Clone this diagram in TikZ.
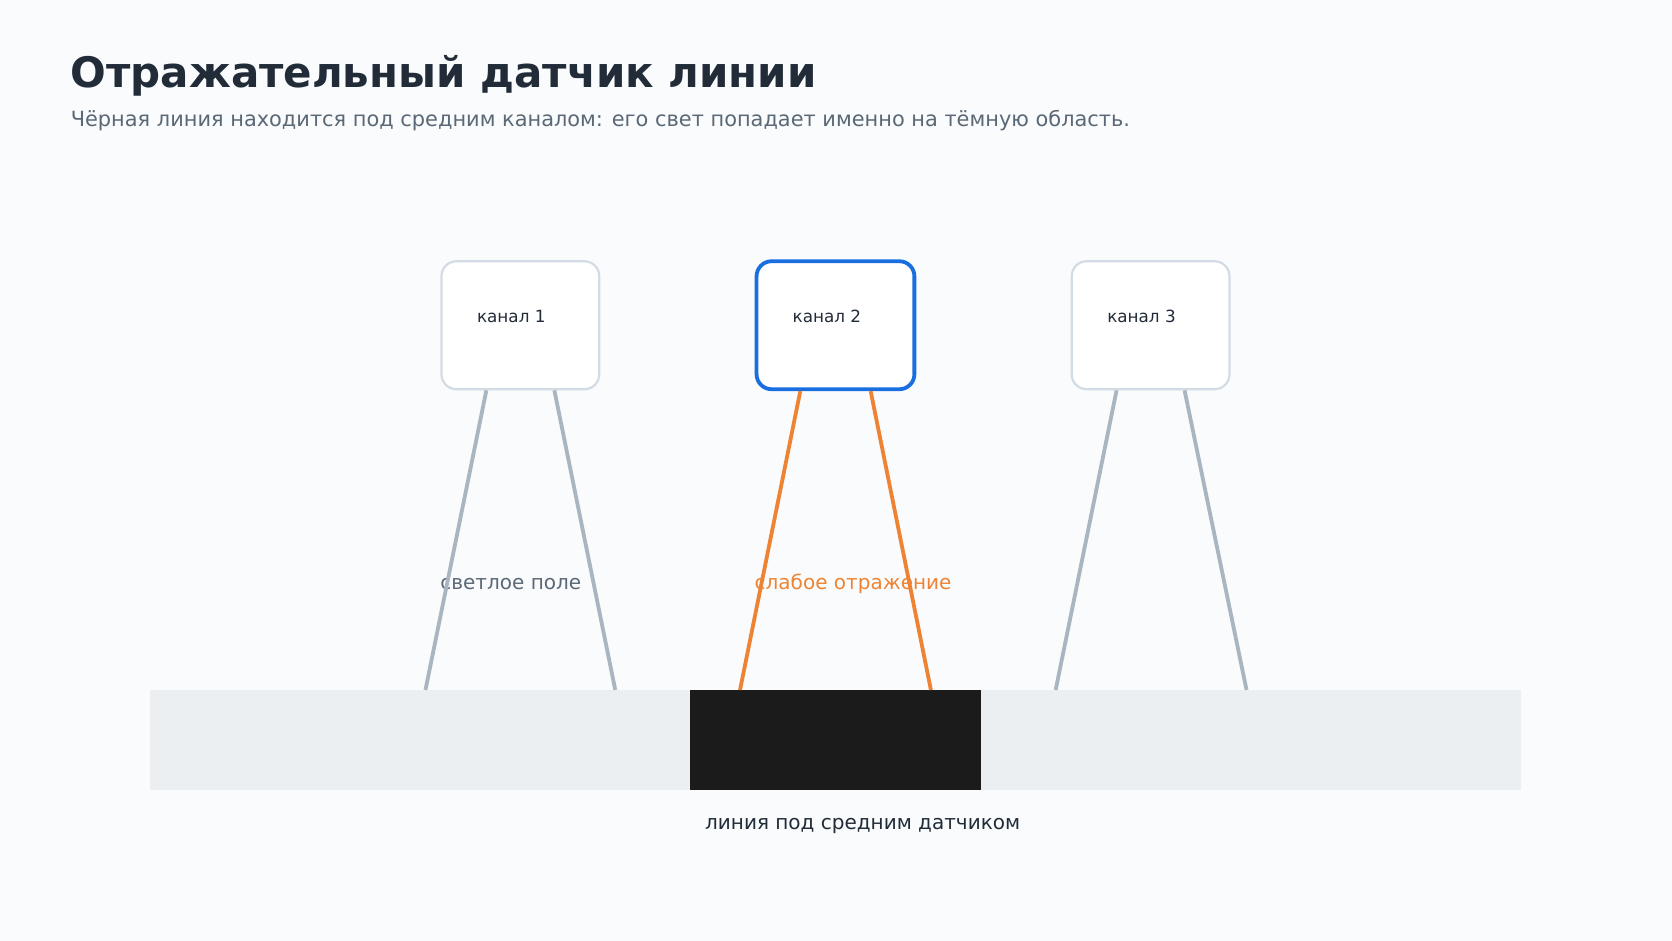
\documentclass[tikz,border=0pt]{standalone}
\usepackage{fontspec}
\setmainfont{DejaVu Sans}
\definecolor{bgcol}{HTML}{F9FBFD}
\definecolor{inkdark}{HTML}{222C38}
\definecolor{inkgray}{HTML}{5B6875}
\definecolor{boxgray}{HTML}{D3DCE4}
\definecolor{raygray}{HTML}{A9B6C1}
\definecolor{rayorange}{HTML}{EE8433}
\definecolor{chanblue}{HTML}{1A6FE0}
\definecolor{floorgray}{HTML}{ECEFF1}
\definecolor{linedark}{HTML}{1B1B1B}

\begin{document}
\begin{tikzpicture}[x=0.5332pt,y=-0.5332pt,
  chanbox/.style={draw=boxgray, line width=1.1pt, fill=white, rounded corners=7.5pt,
    minimum width=78.9pt, minimum height=64pt, inner sep=0pt},
  chanon/.style={chanbox, draw=chanblue, line width=1.9pt},
  chantext/.style={anchor=base west, inner sep=0pt, text=inkdark, font=\fontsize{8.4}{10}\selectfont},
  ray/.style={draw=raygray, line width=1.9pt},
  rayon/.style={draw=rayorange, line width=1.9pt},
  note/.style={anchor=base, inner sep=0pt, font=\fontsize{10}{12}\selectfont}]
\fill[bgcol] (0,0) rectangle (1568,882);
\useasboundingbox (0,0) rectangle (1568,882);

% title
\node[anchor=base west, inner sep=0pt, text=inkdark, font=\fontsize{21}{25}\selectfont\bfseries] (title) at (66,82) {Отражательный датчик линии};
\node[anchor=base west, inner sep=0pt, text=inkgray, font=\fontsize{10.45}{12}\selectfont] (subtitle) at (66,118.5) {Чёрная линия находится под средним каналом: его свет попадает именно на тёмную область.};

% floor and line
\fill[floorgray] (141,647) rectangle (1426,741);
\fill[linedark] (647,647) rectangle (920,741);
\node[note, text=inkdark] (linelabel) at (809,777.5) {линия под средним датчиком};

% channels
\node[chanbox] (k1) at (488,305) {};
\node[chanon] (k2) at (783.5,305) {};
\node[chanbox] (k3) at (1079,305) {};
\node[chantext] (t1) at (447,302) {канал 1};
\node[chantext] (t2) at (743,302) {канал 2};
\node[chantext] (t3) at (1038,302) {канал 3};

\node[note, text=inkgray] (bright) at (479,553) {светлое поле};
\node[note, text=rayorange] (weak) at (800,553) {слабое отражение};

% feet on the floor
\coordinate (f1l) at (399,647); \coordinate (f1r) at (577,647);
\coordinate (f2l) at (694,647); \coordinate (f2r) at (873,647);
\coordinate (f3l) at (990,647); \coordinate (f3r) at (1169,647);

% rays
\draw[ray] ([xshift=-17pt]k1.south) -- (f1l);
\draw[ray] ([xshift=17pt]k1.south) -- (f1r);
\draw[rayon] ([xshift=-17.6pt]k2.south) -- (f2l);
\draw[rayon] ([xshift=17.6pt]k2.south) -- (f2r);
\draw[ray] ([xshift=-17pt]k3.south) -- (f3l);
\draw[ray] ([xshift=17pt]k3.south) -- (f3r);
\end{tikzpicture}
\end{document}
